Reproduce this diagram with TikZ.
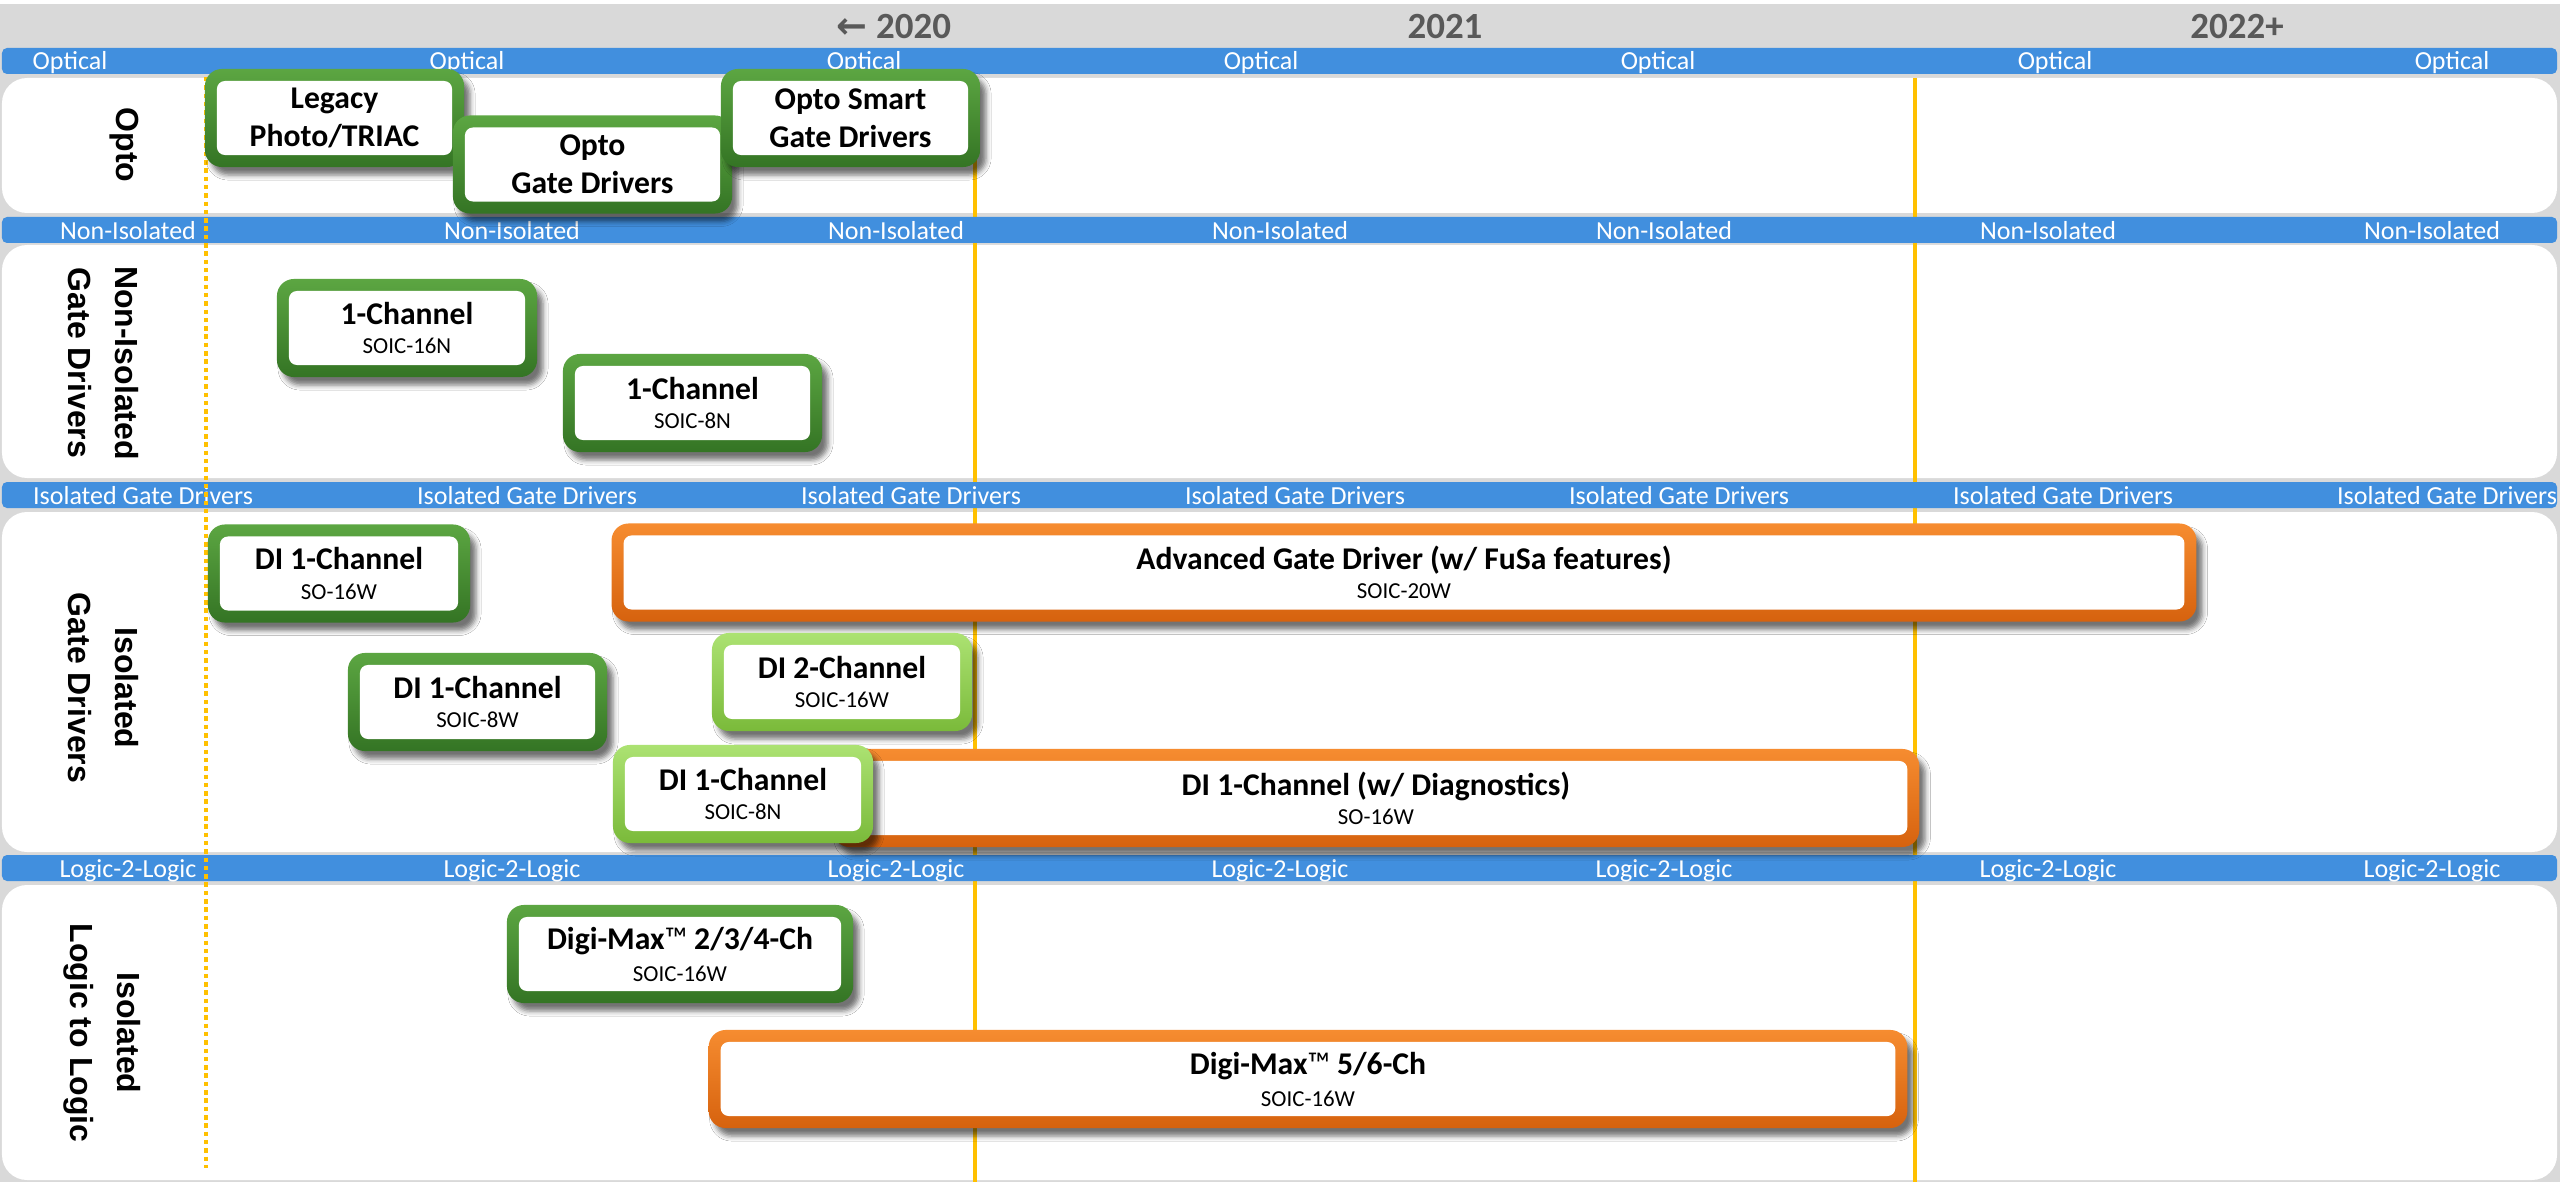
\documentclass[tikz,border=0pt]{standalone}
\usepackage{fontspec}
\setmainfont{Carlito}
\newfontfamily\rowfont{Liberation Sans}
\newfontfamily\arrowfont{DejaVu Sans}
\definecolor{bandblue}{RGB}{65,143,222}
\definecolor{bggray}{RGB}{217,217,217}
\definecolor{yeargray}{RGB}{89,89,89}
\definecolor{markgold}{RGB}{255,192,0}
\definecolor{dgreentop}{RGB}{92,166,66}
\definecolor{dgreenbot}{RGB}{52,116,36}
\definecolor{lgreentop}{RGB}{172,226,114}
\definecolor{lgreenbot}{RGB}{122,186,58}
\definecolor{orangetop}{RGB}{246,140,48}
\definecolor{orangebot}{RGB}{214,98,14}
\usepackage{tikz}
\usetikzlibrary{positioning, shadows.blur}
\newcommand{\subsize}{\mdseries\fontsize{6.5}{8}\selectfont}

\begin{document}
\begin{tikzpicture}[x=0.01cm, y=-0.01cm,
  band/.style={fill=bandblue, rounded corners=0.05cm},
  panel/.style={fill=white, rounded corners=0.25cm},
  bandtext/.style={text=white, font=\fontsize{7.4}{8}\selectfont, anchor=base, inner sep=0pt},
  rowlabel/.style={rotate=-90, align=center, inner sep=0pt, font=\rowfont\bfseries\fontsize{9.1}{13.4}\selectfont},
  yearlabel/.style={text=yeargray, anchor=base, inner sep=0pt, font=\bfseries\fontsize{10.5}{12}\selectfont},
  prodbox/.style={rounded corners=0.17cm, inner sep=0pt, align=center, minimum height=0.98cm,
    font=\bfseries\fontsize{9}{10.8}\selectfont,
    blur shadow={shadow xshift=0.06cm, shadow yshift=-0.08cm, shadow blur radius=0.05cm, shadow opacity=55},
    path picture={\fill[white, rounded corners=0.08cm]
      ([shift={(0.12cm,-0.12cm)}]path picture bounding box.north west) rectangle
      ([shift={(-0.12cm,0.12cm)}]path picture bounding box.south east);}},
  gbox/.style={prodbox, top color=dgreentop, bottom color=dgreenbot},
  lgbox/.style={prodbox, top color=lgreentop, bottom color=lgreenbot},
  obox/.style={prodbox, top color=orangetop, bottom color=orangebot}
]
  \useasboundingbox (0,0) rectangle (2560,1182);
  \fill[white] (0,0) rectangle (2560,1182);
  \fill[bggray] (0,4) rectangle (2560,1182);

  \fill[panel] (2,78) rectangle (2557,213);
  \fill[panel] (2,245) rectangle (2557,478);
  \fill[panel] (2,512) rectangle (2557,852);
  \fill[panel] (2,885) rectangle (2557,1180);

  \draw[markgold, line width=0.035cm] (975,78) -- (975,1182);
  \draw[markgold, line width=0.035cm] (1915,78) -- (1915,1182);

  \foreach \ytop/\txt/\xa/\dx in {48/Optical/70/397, 217/Non-Isolated/128/384,
      482/Isolated Gate Drivers/143/384, 855/Logic-2-Logic/128/384} {
    \fill[band] (2,\ytop) rectangle (2557,\ytop+26);
    \begin{scope}
      \clip (2,\ytop) rectangle (2557,\ytop+26);
      \foreach \k in {0,...,6}
        \node[bandtext] (bt\ytop-\k) at (\xa+\dx*\k, \ytop+22) {\txt};
    \end{scope}
  }

  \draw[markgold, line width=0.045cm, dash pattern=on 0.045cm off 0.038cm] (206,77) -- (206,1168);

  \node[yearlabel] (y2020) at (894,39) {{\arrowfont ←} 2020};
  \node[yearlabel] (y2021) at (1445,39) {2021};
  \node[yearlabel] (y2022) at (2237,39) {2022+};

  \node[rowlabel] (optorow) at (124,145) {Opto};
  \node[rowlabel] (nisorow) at (103,363) {Non-Isolated\\Gate Drivers};
  \node[rowlabel] (isorow) at (103,688) {Isolated\\Gate Drivers};
  \node[rowlabel] (logicrow) at (102,1033) {Isolated\\Logic to Logic};

  \node[gbox, minimum width=2.59cm] (legacy) at (334.5,118) {Legacy\\Photo/TRIAC};
  \node[gbox, minimum width=2.79cm] (optogd) at (592.5,164.5) {Opto\\Gate Drivers};
  \node[gbox, minimum width=2.59cm] (optosmart) at (850.5,118) {Opto Smart\\Gate Drivers};

  \node[gbox, minimum width=2.60cm] (nisoa) at (407,328) {1-Channel\\[-2.5pt]{\subsize SOIC-16N}};
  \node[gbox, minimum width=2.59cm] (nisob) at (692.5,403) {1-Channel\\[-2.5pt]{\subsize SOIC-8N}};

  \node[gbox, minimum width=2.62cm] (dia) at (339,573.5) {DI 1-Channel\\[-2.5pt]{\subsize SO-16W}};
  \node[obox, minimum width=15.84cm] (advgd) at (1404,572.5) {Advanced Gate Driver (w/ FuSa features)\\[-2.5pt]{\subsize SOIC-20W}};
  \node[gbox, minimum width=2.59cm] (dib) at (477.5,702) {DI 1-Channel\\[-2.5pt]{\subsize SOIC-8W}};
  \node[lgbox, minimum width=2.60cm] (ditwo) at (842,682) {DI 2-Channel\\[-2.5pt]{\subsize SOIC-16W}};
  \node[obox, minimum width=10.86cm] (didiag) at (1376,798) {DI 1-Channel (w/ Diagnostics)\\[-2.5pt]{\subsize SO-16W}};
  \node[lgbox, minimum width=2.60cm] (dic) at (743,794) {DI 1-Channel\\[-2.5pt]{\subsize SOIC-8N}};

  \node[gbox, minimum width=3.46cm] (digia) at (680,954) {Digi-Max{\mdseries ™} 2/3/4-Ch\\[-1.7pt]{\subsize SOIC-16W}};
  \node[obox, minimum width=11.98cm] (digib) at (1308,1079) {Digi-Max{\mdseries ™} 5/6-Ch\\[-1.7pt]{\subsize SOIC-16W}};
\end{tikzpicture}
\end{document}
